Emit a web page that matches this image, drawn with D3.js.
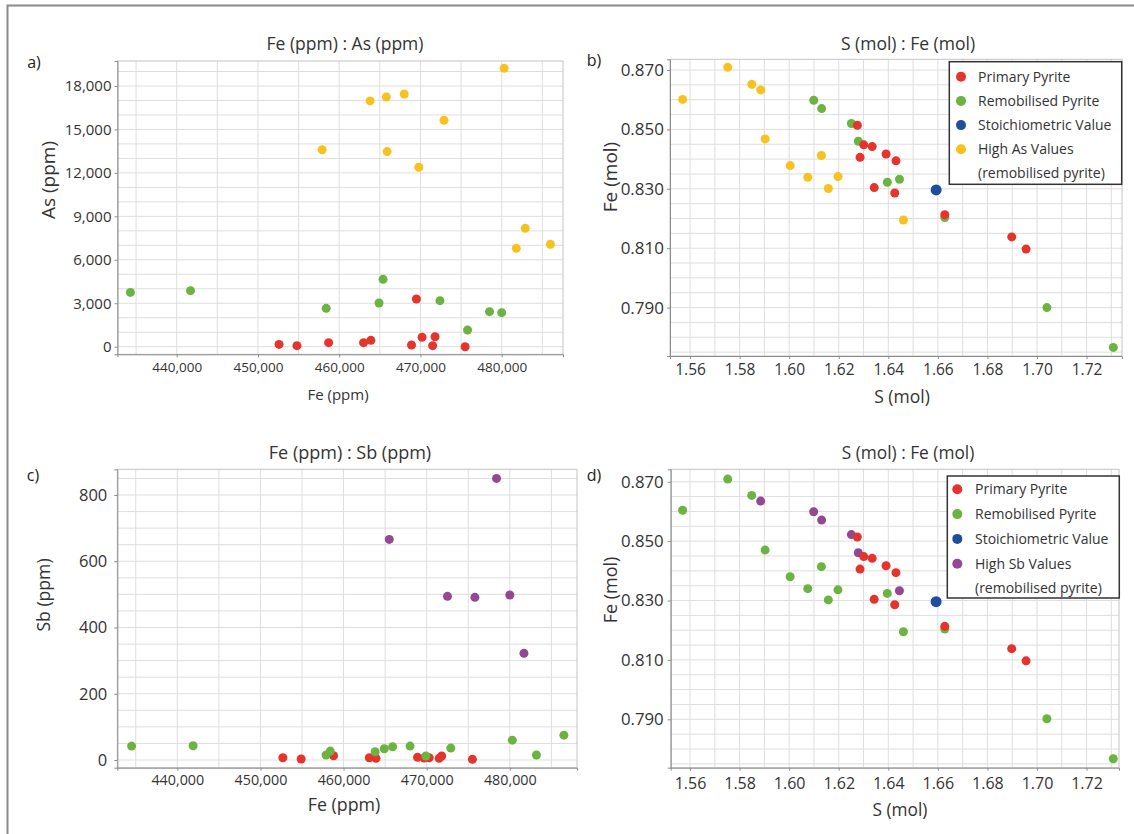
<!DOCTYPE html>
<html>
<head>
<meta charset="utf-8">
<script src="https://cdn.jsdelivr.net/npm/d3@7"></script>
<style>
  body { margin: 0; background: #fff; }
  svg { display: block; font-family: "Open Sans", sans-serif; }
</style>
</head>
<body>
<svg id="chart" width="1134" height="834"></svg>
<script>
// ---- data ----
// a) Fe (ppm) : As (ppm)
const primaryFeAs = [[452600,160],[454800,70],[458700,280],[463000,280],[463900,440],[469500,3290],[468900,120],[470200,650],[471500,70],[471800,690],[475500,0]];
const remobFeAs = [[434300,3750],[441700,3870],[458400,2650],[465400,4650],[464900,3020],[472400,3180],[475800,1150],[478500,2420],[480000,2350]];
const highAsFeAs = [[480300,19220],[463800,16970],[465800,17240],[468000,17450],[472900,15630],[457900,13600],[465900,13470],[469800,12390],[481800,6790],[482900,8170],[486000,7070]];

// c) Fe (ppm) : Sb (ppm)
const primaryFeSb = [[452700,7],[454900,3],[458800,13],[463100,7],[463900,5],[468900,8],[469700,6],[470300,7],[471500,5],[471800,12],[475500,2]];
const remobFeSb = [[434500,42],[441900,43],[457900,15],[458400,27],[463800,25],[464900,34],[465900,40],[468000,42],[469900,12],[472900,36],[480300,60],[483200,15],[486500,75]];
const highSbFeSb = [[478400,850],[465500,666],[472500,494],[475800,491],[480000,498],[481700,322]];

// b) and d) S (mol) : Fe (mol)
const primarySFe = [[1.6275,0.8514],[1.6301,0.8448],[1.6335,0.8442],[1.6286,0.8406],[1.6391,0.8417],[1.6431,0.8394],[1.6343,0.8304],[1.6426,0.8286],[1.6628,0.8213],[1.6898,0.8138],[1.6956,0.8097]];
const stoichSFe = [[1.6593,0.8296]];
const remobSFeB = [[1.6099,0.8598],[1.6131,0.8570],[1.6251,0.8520],[1.6279,0.8460],[1.6396,0.8322],[1.6445,0.8332],[1.6628,0.8203],[1.7040,0.7900],[1.7308,0.7766]];
const highAsSFe = [[1.5570,0.8601],[1.5752,0.8709],[1.5849,0.8652],[1.5885,0.8633],[1.5903,0.8468],[1.6004,0.8378],[1.6130,0.8412],[1.6075,0.8339],[1.6197,0.8341],[1.6158,0.8301],[1.6461,0.8195]];
const remobSFeD = [[1.5570,0.8604],[1.5752,0.8709],[1.5849,0.8654],[1.5903,0.8470],[1.6004,0.8380],[1.6130,0.8414],[1.6075,0.8340],[1.6197,0.8336],[1.6158,0.8302],[1.6396,0.8324],[1.6461,0.8195],[1.6628,0.8204],[1.7040,0.7902],[1.7308,0.7767]];
const highSbSFe = [[1.5885,0.8635],[1.6099,0.8599],[1.6131,0.8571],[1.6251,0.8522],[1.6279,0.8461],[1.6445,0.8333]];

// tick labels
const feTicks = [440000, 450000, 460000, 470000, 480000];
const asTicks = [0, 3000, 6000, 9000, 12000, 15000, 18000];
const sbTicks = [0, 200, 400, 600, 800];
const sTicks = [1.56, 1.58, 1.60, 1.62, 1.64, 1.66, 1.68, 1.70, 1.72];
const feMolTicks = [0.79, 0.81, 0.83, 0.85, 0.87];

const legendB = ["Primary Pyrite", "Remobilised Pyrite", "Stoichiometric Value", "High As Values", "(remobilised pyrite)"];
const legendD = ["Primary Pyrite", "Remobilised Pyrite", "Stoichiometric Value", "High Sb Values", "(remobilised pyrite)"];

const RED = "#e4342b", GREEN = "#6bb441", BLUE = "#1d4f9c", YELLOW = "#f7c11f", PURPLE = "#944893";

const svg = d3.select("#chart");
svg.append("rect").attr("width", 1134).attr("height", 834).attr("fill", "#fff");
// outer frame (cropped on right and bottom)
svg.append("path").attr("d", "M7.5,840V5.5H1140").attr("fill", "none").attr("stroke", "#8a8a8a").attr("stroke-width", 2);

function panel(p) {
    const g = svg.append("g");
    const x = d3.scaleLinear().domain(p.xDom).range([p.left, p.right]);
    const y = d3.scaleLinear().domain(p.yDom).range([p.bottom, p.top]);

    // grid
    const gx = d3.range(Math.ceil(p.xDom[0] / p.xStep) * p.xStep, p.xDom[1], p.xStep);
    const gy = d3.range(Math.ceil(p.yDom[0] / p.yStep) * p.yStep, p.yDom[1], p.yStep);
    g.append("g").selectAll("line").data(gx).join("line")
        .attr("x1", d => x(d)).attr("x2", d => x(d))
        .attr("y1", p.top).attr("y2", p.bottom)
        .attr("stroke", "#dedede");
    g.append("g").selectAll("line").data(gy).join("line")
        .attr("y1", d => y(d)).attr("y2", d => y(d))
        .attr("x1", p.left).attr("x2", p.right)
        .attr("stroke", "#dedede");

    // frame
    g.append("rect")
        .attr("x", p.left).attr("y", p.top)
        .attr("width", p.right - p.left).attr("height", p.bottom - p.top)
        .attr("fill", "none").attr("stroke", "#c4c4c4");

    // axes
    const xa = g.append("g").attr("transform", `translate(0,${p.bottom})`)
        .call(d3.axisBottom(x).tickValues(p.xTicks).tickFormat(p.xFmt).tickSize(3).tickPadding(p.xPad));
    const ya = g.append("g").attr("transform", `translate(${p.left},0)`)
        .call(d3.axisLeft(y).tickValues(p.yTicks).tickFormat(p.yFmt).tickSize(3).tickPadding(p.yPad));
    [xa, ya].forEach(a => {
        a.select(".domain").attr("stroke", "#8c8c8c");
        a.selectAll(".tick line").attr("stroke", "#8c8c8c");
        a.selectAll("text").attr("fill", "#333").style("font-family", "Open Sans, sans-serif");
    });
    xa.selectAll("text").style("font-size", p.xSize + "px");
    ya.selectAll("text").style("font-size", p.ySize + "px");

    // points
    p.series.forEach(s => {
        g.append("g").selectAll("circle").data(s.data).join("circle")
            .attr("cx", d => x(d[0])).attr("cy", d => y(d[1]))
            .attr("r", s.r || 4.5).attr("fill", s.color);
    });

    // texts
    g.append("text").attr("x", p.title[0]).attr("y", p.title[1]).attr("dy", "0.35em")
        .attr("text-anchor", "middle").attr("font-size", p.title[2]).attr("fill", "#333").text(p.titleText);
    g.append("text").attr("x", p.xLab[0]).attr("y", p.xLab[1]).attr("dy", "0.35em")
        .attr("text-anchor", "middle").attr("font-size", p.xLab[2]).attr("fill", "#333").text(p.xLabText);
    g.append("text").attr("transform", `translate(${p.yLab[0]},${p.yLab[1]}) rotate(-90)`).attr("dy", "0.35em")
        .attr("text-anchor", "middle").attr("font-size", p.yLab[2]).attr("fill", "#333").text(p.yLabText);
    g.append("text").attr("x", p.letter[0]).attr("y", p.letter[1]).attr("dy", "0.35em")
        .attr("text-anchor", "middle").attr("font-size", 16).attr("fill", "#222").text(p.letterText);

    // legend
    if (p.legend) {
        const L = p.legend;
        g.append("rect").attr("x", L.x).attr("y", L.y).attr("width", L.w).attr("height", L.h)
            .attr("fill", "#fff").attr("stroke", "#333").attr("stroke-width", 1.5);
        L.labels.forEach((t, i) => {
            const cy = L.y + L.first + i * L.step;
            if (i < L.colors.length) {
                g.append("circle").attr("cx", L.cx).attr("cy", cy).attr("r", 5).attr("fill", L.colors[i]);
            }
            g.append("text").attr("x", L.tx).attr("y", cy).attr("dy", "0.35em")
                .attr("font-size", 14).attr("fill", "#333").text(t);
        });
    }
}

const fmtComma = d3.format(",");

panel({
    left: 117.5, right: 563, top: 61, bottom: 354.3,
    xDom: [432714, 487545], yDom: [-525, 19726], xStep: 5000, yStep: 1000,
    xTicks: feTicks, yTicks: asTicks, xFmt: fmtComma, yFmt: fmtComma,
    xPad: 5, yPad: 3, xSize: 13.5, ySize: 15,
    series: [{data: remobFeAs, color: GREEN}, {data: highAsFeAs, color: YELLOW}, {data: primaryFeAs, color: RED}],
    titleText: "Fe (ppm) : As (ppm)", title: [345, 43.5, 17.5],
    xLabText: "Fe (ppm)", xLab: [338, 395, 15],
    yLabText: "As (ppm)", yLab: [48, 180, 19],
    letterText: "a)", letter: [34, 62]
});

panel({
    left: 670, right: 1122, top: 59.3, bottom: 356,
    xDom: [1.5519, 1.7343], yDom: [0.7737, 0.8736], xStep: 0.01, yStep: 0.005,
    xTicks: sTicks, yTicks: feMolTicks, xFmt: d3.format(".2f"), yFmt: d3.format(".3f"),
    xPad: 5, yPad: 3, xSize: 15.5, ySize: 17,
    series: [{data: highAsSFe, color: YELLOW}, {data: remobSFeB, color: GREEN}, {data: primarySFe, color: RED}, {data: stoichSFe, color: BLUE, r: 5.5}],
    titleText: "S (mol) : Fe (mol)", title: [908, 43.5, 17.5],
    xLabText: "S (mol)", xLab: [902, 397, 17.5],
    yLabText: "Fe (mol)", yLab: [610, 177, 19],
    letterText: "b)", letter: [594, 60],
    legend: {x: 949.3, y: 61.7, w: 172.4, h: 122.6, cx: 961, tx: 978, first: 15, step: 24.2,
             colors: [RED, GREEN, BLUE, YELLOW], labels: legendB}
});

panel({
    left: 117.3, right: 577, top: 469.3, bottom: 767.7,
    xDom: [432782, 488082], yDom: [-23.2, 877.6], xStep: 5000, yStep: 50,
    xTicks: feTicks, yTicks: sbTicks, xFmt: fmtComma, yFmt: d3.format("d"),
    xPad: 4, yPad: 7, xSize: 14.3, ySize: 16.5,
    series: [{data: highSbFeSb, color: PURPLE}, {data: primaryFeSb, color: RED}, {data: remobFeSb, color: GREEN}],
    titleText: "Fe (ppm) : Sb (ppm)", title: [350, 453, 18],
    xLabText: "Fe (ppm)", xLab: [344, 805, 17.8],
    yLabText: "Sb (ppm)", yLab: [44, 595, 17.6],
    letterText: "c)", letter: [33, 475]
});

panel({
    left: 670.7, right: 1119, top: 469.3, bottom: 767.7,
    xDom: [1.5522, 1.7331], yDom: [0.7737, 0.8742], xStep: 0.01, yStep: 0.005,
    xTicks: sTicks, yTicks: feMolTicks, xFmt: d3.format(".2f"), yFmt: d3.format(".3f"),
    xPad: 7, yPad: 4, xSize: 16, ySize: 16.8,
    series: [{data: remobSFeD, color: GREEN}, {data: highSbSFe, color: PURPLE}, {data: primarySFe, color: RED}, {data: stoichSFe, color: BLUE, r: 5.5}],
    titleText: "S (mol) : Fe (mol)", title: [908, 453, 17.3],
    xLabText: "S (mol)", xLab: [900, 810, 17.3],
    yLabText: "Fe (mol)", yLab: [611, 590, 18],
    letterText: "d)", letter: [594, 475],
    legend: {x: 947.3, y: 476, w: 172, h: 122, cx: 957.3, tx: 975, first: 13.3, step: 24.8,
             colors: [RED, GREEN, BLUE, PURPLE], labels: legendD}
});
</script>
</body>
</html>
